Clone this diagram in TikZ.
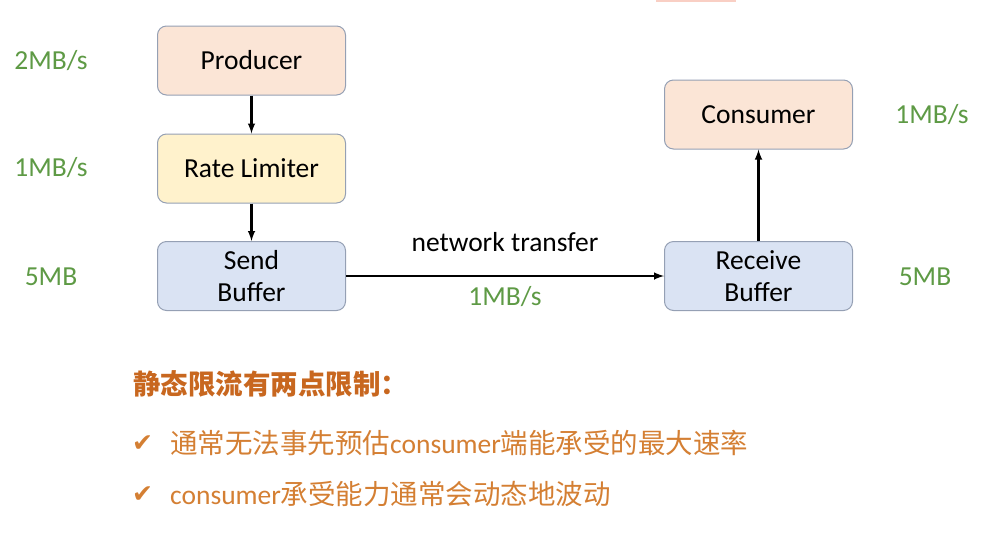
\documentclass[tikz,border=0pt]{standalone}
\usepackage{fontspec}
\setmainfont{Carlito}
\newfontfamily\cjk{Noto Sans CJK SC}
\newfontfamily\tick{DejaVu Sans}
\usepackage{tikz}
\usetikzlibrary{positioning}
\definecolor{peach}{HTML}{FBE5D6}
\definecolor{limiter}{HTML}{FFF2CC}
\definecolor{buffer}{HTML}{DAE3F3}
\definecolor{boxline}{HTML}{95A0B4}
\definecolor{rate}{HTML}{5E9A45}
\definecolor{note}{HTML}{D47F33}
\definecolor{notehead}{HTML}{C8671F}
\definecolor{topbar}{HTML}{F9CFC4}

\begin{document}
\begin{tikzpicture}[x=1pt,y=-1pt,
    box/.style={draw=boxline,line width=1pt,rounded corners=9pt,minimum width=188pt,minimum height=69pt,align=center,font=\fontsize{27.5}{32}\selectfont},
    rate/.style={text=rate,font=\fontsize{27.5}{30}\selectfont},
    line/.style={line width=2.4pt,-latex}]
  \useasboundingbox (0,0) rectangle (986,542);
  \fill[topbar] (656,0) rectangle (736,2);
  % sending side
  \node[box,fill=peach](producer) at (251.5,60.5){Producer};
  \node[box,fill=limiter](limiter) at (251.5,168.5){Rate Limiter};
  \node[box,fill=buffer](send) at (251.5,276){Send\\Buffer};
  % receiving side
  \node[box,fill=peach](consumer) at (758.5,114.5){Consumer};
  \node[box,fill=buffer](receive) at (758.5,276){Receive\\Buffer};
  \draw[line] (producer) -- (limiter);
  \draw[line] (limiter) -- (send);
  \draw[line] (send) -- node[above=20pt,font=\fontsize{27.5}{30}\selectfont]{network transfer} node[rate,below=6pt]{1MB/s} (receive);
  \draw[line] (receive) -- (consumer);
  % rates
  \node[rate](prodrate) at (51,61){2MB/s};
  \node[rate](limitrate) at (51,168){1MB/s};
  \node[rate](sendsize) at (51,277){5MB};
  \node[rate](consrate) at (932,115){1MB/s};
  \node[rate](recvsize) at (925,277){5MB};
  % notes
  \node[anchor=west,inner sep=0pt,text=notehead,font=\cjk\bfseries\fontsize{27.5}{30}\selectfont](head) at (133,384){静态限流有两点限制：};
  \node[anchor=west,inner sep=0pt,text=note,font=\tick\fontsize{25}{30}\selectfont](tickone) at (132,444){✔};
  \node[anchor=west,inner sep=0pt,text=note,font=\fontsize{27.5}{30}\selectfont](noteone) at (170,443){{\cjk 通常无法事先预估}consumer{\cjk 端能承受的最大速率}};
  \node[anchor=west,inner sep=0pt,text=note,font=\tick\fontsize{25}{30}\selectfont](ticktwo) at (132,495){✔};
  \node[anchor=west,inner sep=0pt,text=note,font=\fontsize{27.5}{30}\selectfont](notetwo) at (170,494){consumer{\cjk 承受能力通常会动态地波动}};
\end{tikzpicture}
\end{document}
